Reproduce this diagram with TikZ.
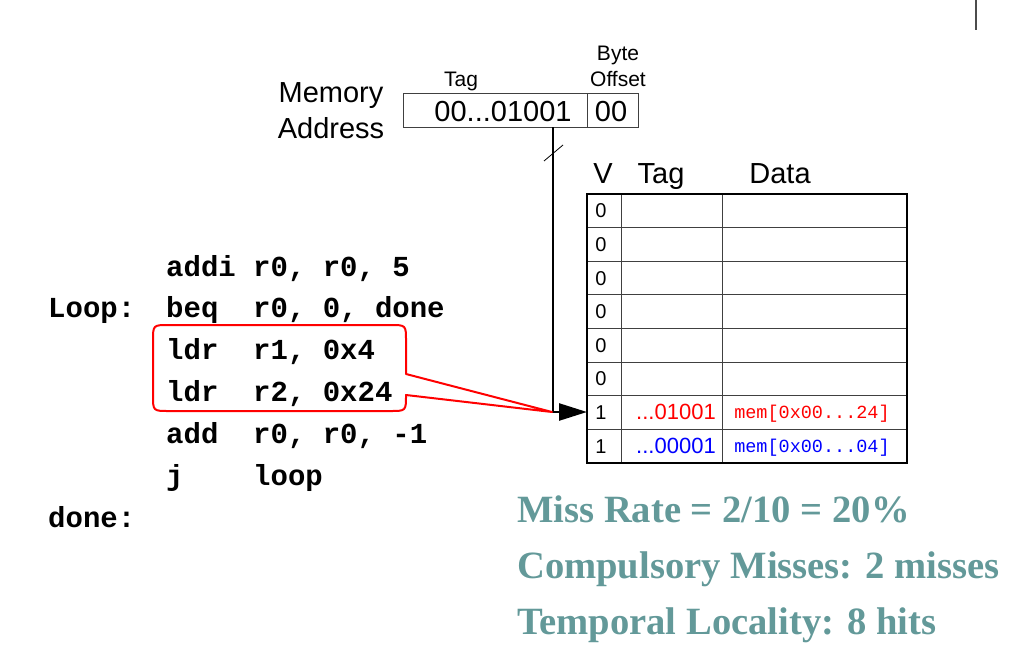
\documentclass[tikz,border=0pt]{standalone}
\usepackage{fontspec}
\setmainfont{Liberation Sans}
\newfontfamily\timesfont{Liberation Serif}
\newfontfamily\monofont{Liberation Mono}
\usetikzlibrary{arrows.meta}
\definecolor{teal2}{RGB}{99,153,153}
\begin{document}
\begin{tikzpicture}[x=1pt,y=-1pt,
  txt/.style={inner sep=0pt, anchor=base},
  big/.style={txt, font=\fontsize{29}{34}\selectfont},
  small/.style={txt, font=\fontsize{21}{25}\selectfont},
  cell/.style={txt, font=\fontsize{20}{24}\selectfont},
  code/.style={inner sep=0pt, anchor=base west, font=\fontsize{29}{34}\selectfont\monofont\bfseries},
  memtxt/.style={txt, font=\fontsize{18.5}{22}\selectfont\monofont},
  stat/.style={inner sep=0pt, anchor=base west, text=teal2, font=\fontsize{38.6}{44}\selectfont\timesfont\bfseries},
  thin/.style={line width=0.9pt, black!75},
  thick/.style={line width=2.5pt}]
\useasboundingbox (0,0) rectangle (1018,664);

% top gray mark
\draw[line width=2pt, black!70] (976,0) -- (976,30);

% memory address
\node[big] (mem) at (331,102) {Memory};
\node[big] (addr) at (331,138) {Address};
\draw[thin] (403,93) rectangle (638,127);
\draw[thin] (587,93) -- (587,127);
\node[big] (tagval) at (503,121) {00...01001};
\node[big] (offval) at (611,121) {00};
\node[small] (taglbl) at (461,86) {Tag};
\node[small] (bytelbl) at (618,60) {Byte};
\node[small] (offlbl) at (618,86) {Offset};

% table
\node[big] (hv) at (603,183) {V};
\node[big] (htag) at (661,183) {Tag};
\node[big] (hdata) at (780,183) {Data};
\foreach \i in {1,...,7} {
  \draw[thin] (587,{194+33.6*\i}) -- (907,{194+33.6*\i});
}
\draw[thin] (621,194) -- (621,463);
\draw[thin] (722,194) -- (722,463);
\draw[thick] (587,194) rectangle (907,463);
\foreach \i in {0,...,5} {
  \node[cell] (v\i) at (601,{194+33.6*(\i+0.5)+7}) {0};
}
\node[cell] (v6) at (601,{194+33.6*6.5+7}) {1};
\node[cell] (v7) at (601,{194+33.6*7.5+7}) {1};
\node[txt, font=\fontsize{22}{26}\selectfont, text=red] (t6) at (676,{194+33.6*6.5+7}) {...01001};
\node[txt, font=\fontsize{22}{26}\selectfont, text=blue] (t7) at (676,{194+33.6*7.5+7}) {...00001};
\node[memtxt, text=red] (d6) at (812,{194+33.6*6.5+6}) {mem[0x00...24]};
\node[memtxt, text=blue] (d7) at (812,{194+33.6*7.5+6}) {mem[0x00...04]};

% connector
\coordinate (tagout) at (553,127);
\coordinate (row6w) at (587,412);
\draw[thick, -{Triangle[length=28pt,width=17pt]}] (tagout) |- (row6w);
\draw[line width=0.8pt] (544,161) -- (563,145);

% code
\node[code] (l0) at (166,276) {addi};
\node[code] (o0) at (253,276) {r0, r0, 5};
\node[code] (lab1) at (48,317) {Loop:};
\node[code] (l1) at (166,317) {beq};
\node[code] (o1) at (253,317) {r0, 0, done};
\node[code] (l2) at (166,359) {ldr};
\node[code] (o2) at (253,359) {r1, 0x4};
\node[code] (l3) at (166,401) {ldr};
\node[code] (o3) at (253,401) {r2, 0x24};
\node[code] (l4) at (166,443) {add};
\node[code] (o4) at (253,443) {r0, r0, -1};
\node[code] (l5) at (166,485) {j};
\node[code] (o5) at (253,485) {loop};
\node[code] (lab2) at (48,527) {done:};

% callout
\coordinate (tip) at (552,412);
\draw[red, line width=2pt, line join=round]
  (tip) -- (406,374) -- (406,341) .. controls (406,325) .. (390,325)
  -- (169,325) .. controls (153,325) .. (153,341)
  -- (153,395) .. controls (153,411) .. (169,411)
  -- (390,411) .. controls (406,411) .. (406,395) -- cycle;

% stats
\node[stat] (s1) at (517,522) {Miss Rate = 2/10 = 20\%};
\node[stat] (s2) at (517,578) {Compulsory Misses: 2 misses};
\node[stat] (s3) at (517,634) {Temporal Locality: 8 hits};
\end{tikzpicture}
\end{document}
